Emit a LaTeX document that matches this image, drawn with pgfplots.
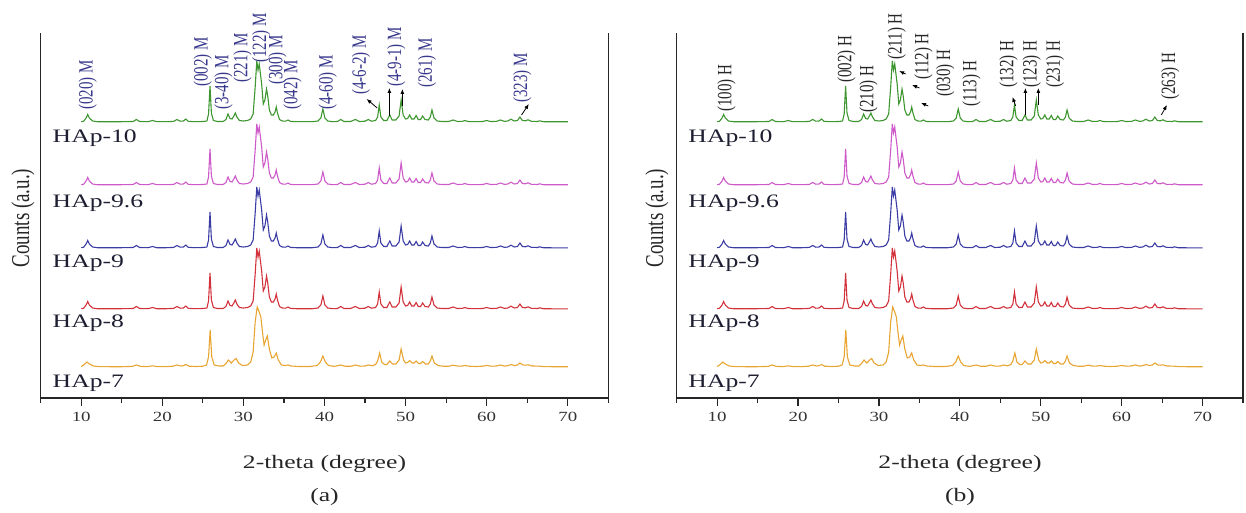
\documentclass[border=0pt]{standalone}
\usepackage{fontspec}
\setmainfont{Liberation Serif}
\usepackage{graphicx}
\usepackage{pgfplots}
\usepackage{pgfplotstable}
\pgfplotsset{compat=1.18}
\usetikzlibrary{arrows.meta}

\definecolor{cgreen}{RGB}{62,150,48}
\definecolor{cpink}{RGB}{205,90,200}
\definecolor{cblue}{RGB}{60,60,165}
\definecolor{cred}{RGB}{210,50,60}
\definecolor{corange}{RGB}{232,165,50}
\definecolor{cnavy}{RGB}{55,55,140}
\definecolor{ctext}{RGB}{30,30,50}

% the source picture is stretched sideways, so text is too
\newcommand{\hs}[1]{\scalebox{1.35}[1]{#1}}
\newcommand{\pl}[1]{\scalebox{1.35}[1]{\rotatebox{90}{\fontsize{15}{15}\selectfont #1}}}
\newcommand{\bigf}{\fontsize{19}{19}\selectfont}

% sharp profile (HAp-8 ... HAp-10), height above baseline
\pgfplotstableread{
x s
10.0 0.3
10.3 0.8
10.6 4
10.8 7.5
11.0 4
11.4 1
12.0 0.3
13.5 0.2
15.0 0.3
16.4 0.5
16.8 2.5
17.2 0.5
18.2 0.3
18.8 1.5
19.3 0.3
20.5 0.3
21.4 0.6
21.8 2.5
22.2 0.8
22.6 1
22.9 3
23.2 0.7
24.0 0.3
25.0 0.5
25.5 1
25.7 8
25.88 36
26.05 9
26.3 1.5
26.8 0.5
27.5 0.5
27.85 2.5
28.1 8
28.35 3.5
28.6 3
28.85 6.5
29.0 9
29.2 5
29.5 1.5
30.0 1
30.5 1.5
30.9 3
31.2 8
31.45 35
31.65 61
31.8 52
31.95 58
32.1 48
32.25 38
32.45 18
32.65 22
32.85 33
33.0 26
33.2 12
33.45 7
33.7 7
33.9 10
34.05 15
34.2 9
34.45 2.5
34.8 1
35.2 0.8
35.5 2
35.8 0.6
36.5 0.3
37.5 0.3
38.5 0.3
39.2 1
39.55 4
39.8 13
40.05 4
40.4 1
41.0 0.3
41.6 0.5
42.0 2.5
42.4 0.5
43.2 0.5
43.8 2.5
44.3 0.5
45.0 0.8
45.4 2.5
45.8 0.8
46.3 1.5
46.55 5
46.75 17
46.95 5
47.3 1.5
47.7 1.5
48.05 7
48.35 2
48.8 2
49.2 6
49.45 22
49.7 7
50.0 3
50.25 3.5
50.5 7
50.75 3
51.05 3
51.3 6.5
51.55 2.5
51.85 2.5
52.1 6
52.4 2.5
52.8 2
53.05 5
53.25 12
53.5 4
53.9 1
54.5 0.5
55.3 0.5
55.85 2
56.4 0.5
57.0 0.7
57.3 1.5
57.7 0.5
58.5 0.3
59.5 0.5
60.0 1.5
60.5 0.5
61.2 0.6
61.7 2
62.2 0.6
62.6 1
63.0 2.8
63.4 1
63.8 1.5
64.1 5
64.4 1.5
64.8 1.2
65.1 2.2
65.5 0.7
66.3 0.5
66.5 1.2
67.0 0.3
68.0 0.2
69.0 0.2
70.0 0.2
}\patA

% broader profile (HAp-7)
\pgfplotstableread{
x s
10.0 0.5
10.3 2
10.7 5
11.0 3
11.5 1
12.2 0.4
13.5 0.3
15.0 0.3
16.3 0.6
16.8 2
17.3 0.6
18.2 0.4
18.8 1.2
19.4 0.4
20.5 0.4
21.3 0.8
21.8 2
22.3 1
22.6 1.3
22.9 2.5
23.3 0.8
24.2 0.5
25.0 0.8
25.45 2
25.7 10
25.9 37
26.1 10
26.4 2
27.0 1
27.5 1
27.85 3.5
28.15 7
28.5 4
28.85 7
29.1 8.5
29.4 4
29.9 1.5
30.5 2
30.9 5
31.2 15
31.45 45
31.7 60
31.95 55
32.15 50
32.35 35
32.55 22
32.75 27
32.95 31
33.2 18
33.5 9
33.8 10
34.05 14
34.3 7
34.7 2
35.2 1.5
35.5 2
35.9 1
36.8 0.5
38.2 0.5
39.1 1.5
39.5 5
39.8 11
40.1 5
40.5 1.5
41.2 0.6
42.0 2
42.6 0.7
43.3 0.8
43.8 2
44.4 0.8
45.0 1
45.4 2
45.9 1.2
46.3 2.5
46.55 6
46.8 14
47.05 5
47.4 2.5
47.7 2.5
48.05 6
48.4 3
48.8 3
49.2 7
49.45 18
49.75 7
50.0 4
50.25 4.5
50.5 6.5
50.8 4
51.05 4
51.3 6
51.6 3.5
51.85 3.5
52.1 5.5
52.45 3
52.8 3
53.05 6
53.25 11
53.55 4
54.0 1.5
54.6 0.8
55.3 0.8
55.85 1.8
56.5 0.8
57.0 1
57.3 1.5
57.8 0.8
58.6 0.5
59.5 0.8
60.0 1.5
60.6 0.8
61.2 1
61.7 2
62.2 1
62.6 1.3
63.0 2.5
63.4 1.5
63.8 2
64.1 4
64.5 2
64.8 1.8
65.1 2.2
65.6 1
66.4 0.9
67.0 0.4
68.0 0.3
69.0 0.3
70.0 0.3
}\patB

\pgfplotsset{
  xrd/.style={
    anchor=south west,
    scale only axis,
    height=365pt,
    xmin=5, xmax=75, ymin=0, ymax=365,
    axis x line*=bottom, axis y line*=box,
    axis line style={line width=1.3pt, black!85},
    xtick={10,20,...,70},
    xticklabels={\hs{10},\hs{20},\hs{30},\hs{40},\hs{50},\hs{60},\hs{70}},
    minor xtick={5,15,...,75},
    ytick=\empty,
    tick align=outside,
    major tick length=8pt, minor tick length=5pt,
    tick style={line width=1.2pt, black!85},
    xticklabel style={font=\fontsize{14}{14}\selectfont, text=black!80, yshift=-3pt},
    clip=false,
    every axis plot/.append style={line width=1.1pt, no markers},
  },
}
\tikzset{samp/.style={anchor=base west, inner sep=0pt, text=ctext, font=\bigf}}

\begin{document}
\begin{tikzpicture}
\path (0pt,0pt) rectangle (1246pt,512pt);

% ---------- (a) ----------
\begin{axis}[xrd, at={(40.7pt,114pt)}, width=567.6pt]
\addplot[corange] table[x=x, y expr=\thisrow{s}+31] {\patB};
\addplot[cred] table[x=x, y expr=\thisrow{s}+89] {\patA};
\addplot[cblue] table[x=x, y expr=\thisrow{s}+150] {\patA};
\addplot[cpink] table[x=x, y expr=\thisrow{s}+213] {\patA};
\addplot[cgreen] table[x=x, y expr=\thisrow{s}+276] {\patA};

\node[samp] at (axis cs:6.46,255) {\hs{HAp-10}};
\node[samp] at (axis cs:6.46,190) {\hs{HAp-9.6}};
\node[samp] at (axis cs:6.46,131) {\hs{HAp-9}};
\node[samp] at (axis cs:6.46,71) {\hs{HAp-8}};
\node[samp] at (axis cs:6.46,11) {\hs{HAp-7}};

\begin{scope}[every node/.style={anchor=south, inner sep=0pt, text=cnavy}]
\node at (axis cs:10.8,288) {\pl{(020) M}};
\node at (axis cs:25.0,311) {\pl{(002) M}};
\node at (axis cs:27.55,288) {\pl{(3-40) M}};
\node at (axis cs:29.9,315) {\pl{(221) M}};
\node at (axis cs:32.2,335) {\pl{(122) M}};
\node at (axis cs:34.2,313) {\pl{(300) M}};
\node at (axis cs:36.05,288) {\pl{(042) M}};
\node at (axis cs:40.4,288) {\pl{(4-60) M}};
\node at (axis cs:44.5,303) {\pl{(4-6-2) M}};
\node at (axis cs:48.85,311) {\pl{(4-9-1) M}};
\node at (axis cs:52.65,310) {\pl{(261) M}};
\node at (axis cs:64.4,295) {\pl{(323) M}};
\end{scope}
\begin{scope}[-{Latex[length=5pt,width=4pt]}, line width=0.8pt]
\draw (axis cs:46.5,290) -- (axis cs:45.2,299);
\draw (axis cs:48.0,282) -- (axis cs:48.0,310);
\draw (axis cs:49.6,292) -- (axis cs:49.6,309);
\draw (axis cs:64.3,283) -- (axis cs:65.2,294);
\end{scope}
\end{axis}

% ---------- (b) ----------
\begin{axis}[xrd, at={(676.7pt,114pt)}, width=566.3pt]
\addplot[corange] table[x=x, y expr=\thisrow{s}+31] {\patB};
\addplot[cred] table[x=x, y expr=\thisrow{s}+89] {\patA};
\addplot[cblue] table[x=x, y expr=\thisrow{s}+150] {\patA};
\addplot[cpink] table[x=x, y expr=\thisrow{s}+213] {\patA};
\addplot[cgreen] table[x=x, y expr=\thisrow{s}+276] {\patA};

\node[samp] at (axis cs:6.43,255) {\hs{HAp-10}};
\node[samp] at (axis cs:6.43,190) {\hs{HAp-9.6}};
\node[samp] at (axis cs:6.43,131) {\hs{HAp-9}};
\node[samp] at (axis cs:6.43,71) {\hs{HAp-8}};
\node[samp] at (axis cs:6.43,11) {\hs{HAp-7}};

\begin{scope}[every node/.style={anchor=south, inner sep=0pt, text=black!85}]
\node at (axis cs:11.17,286) {\pl{(100) H}};
\node at (axis cs:26.0,315) {\pl{(002) H}};
\node at (axis cs:28.7,285) {\pl{(210) H}};
\node at (axis cs:32.2,338) {\pl{(211) H}};
\node at (axis cs:35.5,318) {\pl{(112) H}};
\node at (axis cs:38.2,301) {\pl{(030) H}};
\node at (axis cs:41.45,291) {\pl{(113) H}};
\node at (axis cs:46.0,310) {\pl{(132) H}};
\node at (axis cs:48.9,310) {\pl{(123) H}};
\node at (axis cs:51.75,310) {\pl{(231) H}};
\node at (axis cs:66.0,298) {\pl{(263) H}};
\end{scope}
\begin{scope}[-{Latex[length=5pt,width=4pt]}, line width=0.8pt]
\draw (axis cs:33.3,324) -- (axis cs:32.5,327);
\draw (axis cs:35.0,310) -- (axis cs:34.1,313);
\draw (axis cs:36.1,292) -- (axis cs:35.2,295);
\draw (axis cs:46.9,292) -- (axis cs:46.5,301);
\draw (axis cs:48.1,283) -- (axis cs:48.1,310);
\draw (axis cs:49.7,293) -- (axis cs:49.7,310);
\draw (axis cs:64.9,283) -- (axis cs:65.6,293);
\end{scope}
\end{axis}

% axis titles and panel letters
\node[font=\bigf, text=black!85] at (23pt,294pt) {\scalebox{1.35}[1]{\rotatebox{90}{Counts (a.u.)}}};
\node[font=\bigf, text=black!85] at (657pt,294pt) {\scalebox{1.35}[1]{\rotatebox{90}{Counts (a.u.)}}};
\node[font=\bigf, text=black!85] at (324.5pt,48pt) {\hs{2-theta (degree)}};
\node[font=\bigf, text=black!85] at (960pt,48pt) {\hs{2-theta (degree)}};
\node[font=\bigf, text=black!85] at (324.5pt,15pt) {\hs{(a)}};
\node[font=\bigf, text=black!85] at (960pt,15pt) {\hs{(b)}};
\end{tikzpicture}
\end{document}
